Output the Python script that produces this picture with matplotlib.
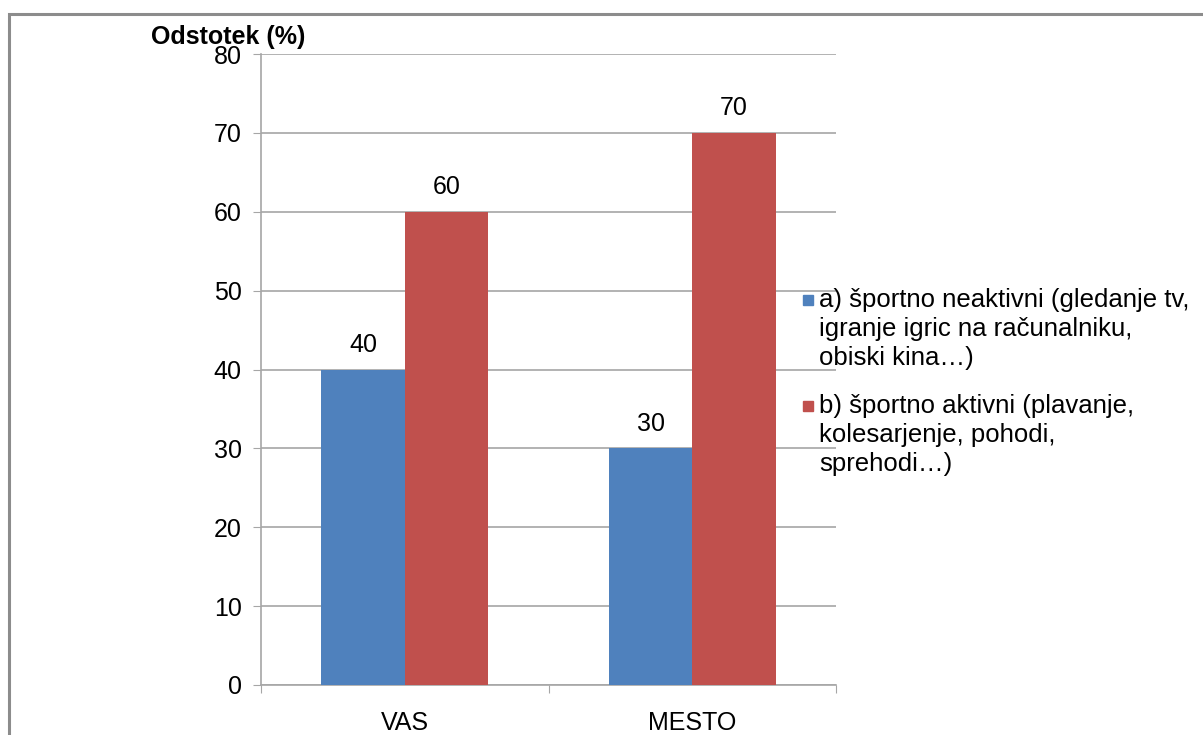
import matplotlib.pyplot as plt
from matplotlib.patches import Rectangle
import numpy as np

plt.rcParams['font.family'] = ['Liberation Sans', 'DejaVu Sans']

categories = ['VAS', 'MESTO']
inactive = [40, 30]
active = [60, 70]
series_labels = [
    'a) športno neaktivni (gledanje tv,\nigranje igric na računalniku,\nobiski kina…)',
    'b) športno aktivni (plavanje,\nkolesarjenje, pohodi,\nsprehodi…)',
]
yticks = [0, 10, 20, 30, 40, 50, 60, 70, 80]

blue = '#4f81bd'
red = '#c0504d'
grid_gray = '#a6a6a6'
FS = 18

W, H = 1203, 735
fig = plt.figure(figsize=(W / 100, H / 100), dpi=100)
ax = fig.add_axes([261 / W, 50 / H, (836 - 261) / W, (685 - 54) / H])

# outer chart frame
fig.patches.append(Rectangle((9 / W, -0.2), 1.2, 1.2 - 14 / H,
                             transform=fig.transFigure, fill=False,
                             edgecolor='#8c8c8c', linewidth=2.2))

x = np.arange(len(categories))
w = 0.29
b1 = ax.bar(x - w / 2, inactive, w, color=blue, zorder=3)
b2 = ax.bar(x + w / 2, active, w, color=red, zorder=3)

for bars in (b1, b2):
    for r in bars:
        ax.annotate(f'{r.get_height():g}', (r.get_x() + r.get_width() / 2, r.get_height()),
                    xytext=(0, 9), textcoords='offset points', ha='center', va='bottom',
                    fontsize=FS)

ax.set_xlim(-0.5, 1.5)
ax.set_ylim(0, 80)
ax.set_yticks(yticks)
ax.tick_params(axis='y', labelsize=FS, length=6, color=grid_gray, pad=8)
ax.yaxis.grid(True, color=grid_gray, linewidth=1.2, zorder=0)
ax.set_axisbelow(True)

ax.set_xticks([-0.5, 0.5, 1.5])
ax.set_xticklabels([])
ax.set_xticks(x, minor=True)
ax.set_xticklabels(categories, minor=True)
ax.tick_params(axis='x', which='major', length=6, color=grid_gray)
ax.tick_params(axis='x', which='minor', length=0, labelsize=FS, pad=19)

for s in ['top', 'right']:
    ax.spines[s].set_visible(False)
for s in ['left', 'bottom']:
    ax.spines[s].set_color(grid_gray)
    ax.spines[s].set_linewidth(1.2)

fig.text(228 / W, 1 - 37 / H, 'Odstotek (%)', ha='center', va='center',
         fontsize=FS, fontweight='bold')

# legend: square key beside the first line of each wrapped label
entry_tops = [300, 406]
line_step = 29
for color, label, y0 in zip([blue, red], series_labels, entry_tops):
    fig.patches.append(Rectangle((803 / W, 1 - (y0 + 5) / H), 10 / W, 10 / H,
                                 transform=fig.transFigure, color=color))
    for i, line in enumerate(label.split('\n')):
        fig.text(819 / W, 1 - (y0 + i * line_step) / H, line, ha='left',
                 va='center', fontsize=FS + 0.5)

fig.savefig('out.png', dpi=100)
